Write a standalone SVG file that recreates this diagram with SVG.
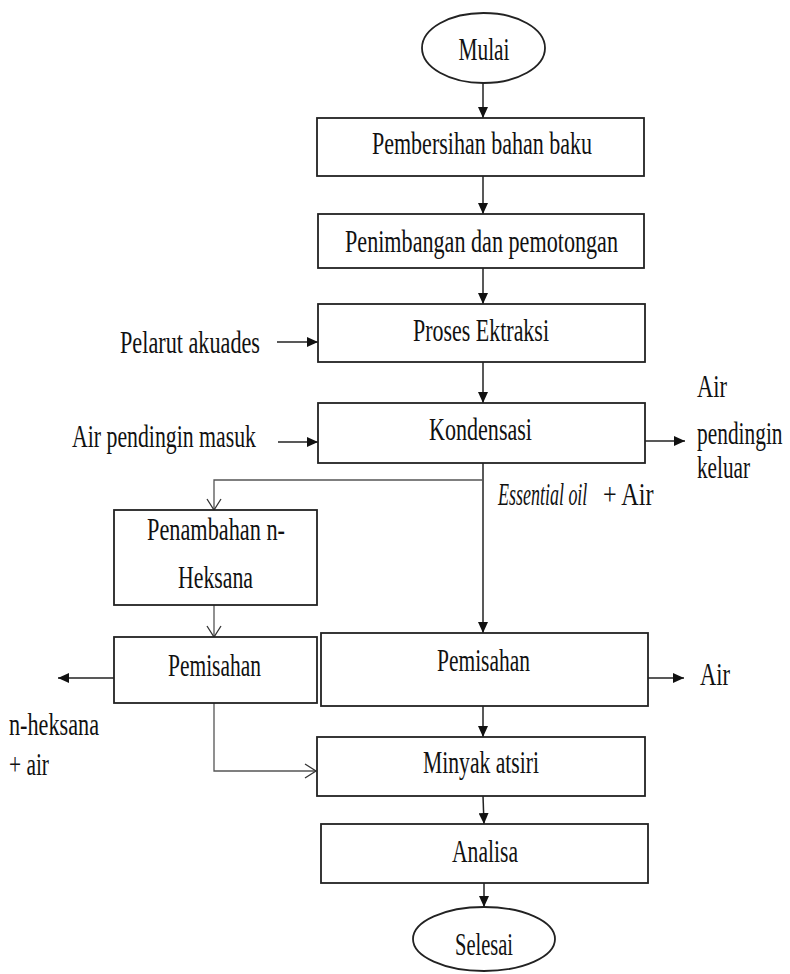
<svg xmlns="http://www.w3.org/2000/svg" width="790" height="974" viewBox="0 0 790 974">
<style>
.box{fill:#fff;stroke:#222;stroke-width:1.8}
.t{font-family:"Liberation Serif","Times New Roman","DejaVu Serif",serif;font-size:31px;fill:#111}
.c{text-anchor:middle}
.ln{fill:none;stroke:#222;stroke-width:1.5}
.ln2{fill:none;stroke:#555;stroke-width:1.3}
</style>
<defs>
<marker id="fa" markerUnits="userSpaceOnUse" markerWidth="12" markerHeight="10" refX="11" refY="5" orient="auto">
<path d="M0,0 L11,5 L0,10 z" fill="#111"/>
</marker>
<marker id="oa" markerUnits="userSpaceOnUse" markerWidth="14" markerHeight="16" refX="12" refY="8" orient="auto">
<path d="M1,1 L12,8 L1,15" fill="none" stroke="#333" stroke-width="1.3"/>
</marker>
</defs>
<rect width="790" height="974" fill="#fff"/>
<g id="connectors">
<line class="ln" x1="483" y1="83" x2="483" y2="118" marker-end="url(#fa)"/>
<line class="ln" x1="483" y1="176" x2="483" y2="214" marker-end="url(#fa)"/>
<line class="ln" x1="483" y1="268" x2="483" y2="304" marker-end="url(#fa)"/>
<line class="ln" x1="483" y1="362" x2="483" y2="403" marker-end="url(#fa)"/>
<line class="ln" x1="277" y1="342" x2="318" y2="342" marker-end="url(#fa)"/>
<line class="ln" x1="278" y1="442" x2="318" y2="442" marker-end="url(#fa)"/>
<line class="ln" x1="645" y1="441" x2="685" y2="441" marker-end="url(#fa)"/>
<line class="ln" x1="483" y1="463" x2="483" y2="633" marker-end="url(#fa)"/>
<polyline class="ln2" points="483,480 214,480 214,510" marker-end="url(#oa)"/>
<line class="ln2" x1="214" y1="605" x2="214" y2="637" marker-end="url(#oa)"/>
<line class="ln" x1="114" y1="678" x2="58" y2="678" marker-end="url(#fa)"/>
<polyline class="ln2" points="214,703 214,771 316,771" marker-end="url(#oa)"/>
<line class="ln" x1="648" y1="678" x2="684" y2="678" marker-end="url(#fa)"/>
<line class="ln" x1="483" y1="706" x2="483" y2="737" marker-end="url(#fa)"/>
<line class="ln" x1="483" y1="796" x2="484" y2="824" marker-end="url(#fa)"/>
<line class="ln" x1="484" y1="883" x2="484" y2="907" marker-end="url(#fa)"/>
</g>
<g id="mulai">
<ellipse class="box" cx="483.5" cy="48" rx="61.5" ry="35"/>
<text class="t c" x="484" y="60" textLength="51" lengthAdjust="spacingAndGlyphs">Mulai</text>
</g>
<g id="pembersihan">
<rect class="box" x="317" y="118" width="327" height="58"/>
<text class="t" x="372" y="154" textLength="220" lengthAdjust="spacingAndGlyphs">Pembersihan  bahan baku</text>
</g>
<g id="penimbangan">
<rect class="box" x="318" y="214" width="326" height="54"/>
<text class="t" x="345" y="252" textLength="273" lengthAdjust="spacingAndGlyphs">Penimbangan dan pemotongan</text>
</g>
<g id="ekstraksi">
<rect class="box" x="318" y="304" width="327" height="58"/>
<text class="t" x="413" y="341" textLength="136" lengthAdjust="spacingAndGlyphs">Proses Ektraksi</text>
</g>
<g id="pelarut">
<text class="t" x="120" y="353" textLength="140" lengthAdjust="spacingAndGlyphs">Pelarut akuades</text>
</g>
<g id="kondensasi">
<rect class="box" x="318" y="403" width="327" height="60"/>
<text class="t" x="429" y="440" textLength="103" lengthAdjust="spacingAndGlyphs">Kondensasi</text>
</g>
<g id="air-masuk">
<text class="t" x="72" y="447" textLength="184" lengthAdjust="spacingAndGlyphs">Air pendingin masuk</text>
</g>
<g id="air-keluar">
<text class="t" x="697" y="397" textLength="30" lengthAdjust="spacingAndGlyphs">Air</text>
<text class="t" transform="translate(697,444) scale(0.69,1)" x="0" y="0">pendingin</text>
<text class="t" x="697" y="478" textLength="53" lengthAdjust="spacingAndGlyphs">keluar</text>
</g>
<g id="essential-label">
<text class="t" transform="translate(498,505) scale(0.58,1)" x="0" y="0" font-style="italic">Essential oil</text>
<text class="t" transform="translate(603,505) scale(0.78,1)" x="0" y="0">+ Air</text>
</g>
<g id="penambahan">
<rect class="box" x="114" y="510" width="203" height="95"/>
<text class="t" x="147" y="540" textLength="138" lengthAdjust="spacingAndGlyphs">Penambahan n-</text>
<text class="t" x="178" y="588" textLength="75" lengthAdjust="spacingAndGlyphs">Heksana</text>
</g>
<g id="pemisahan-kiri">
<rect class="box" x="114" y="637" width="203" height="66"/>
<text class="t" x="168" y="676" textLength="93" lengthAdjust="spacingAndGlyphs">Pemisahan</text>
</g>
<g id="nheksana">
<text class="t" x="9" y="735" textLength="90" lengthAdjust="spacingAndGlyphs">n-heksana</text>
<text class="t" x="9" y="775" textLength="40" lengthAdjust="spacingAndGlyphs">+ air</text>
</g>
<g id="pemisahan-kanan">
<rect class="box" x="321" y="633" width="327" height="73"/>
<text class="t" x="437" y="671" textLength="93" lengthAdjust="spacingAndGlyphs">Pemisahan</text>
</g>
<g id="air-out">
<text class="t" x="700" y="685" textLength="30" lengthAdjust="spacingAndGlyphs">Air</text>
</g>
<g id="minyak">
<rect class="box" x="317" y="737" width="328" height="59"/>
<text class="t" x="423" y="773" textLength="116" lengthAdjust="spacingAndGlyphs">Minyak atsiri</text>
</g>
<g id="analisa">
<rect class="box" x="321" y="824" width="327" height="59"/>
<text class="t" x="452" y="862" textLength="66" lengthAdjust="spacingAndGlyphs">Analisa</text>
</g>
<g id="selesai">
<ellipse class="box" cx="484" cy="939" rx="71" ry="32"/>
<text class="t" x="455" y="955" textLength="58" lengthAdjust="spacingAndGlyphs">Selesai</text>
</g>
</svg>
